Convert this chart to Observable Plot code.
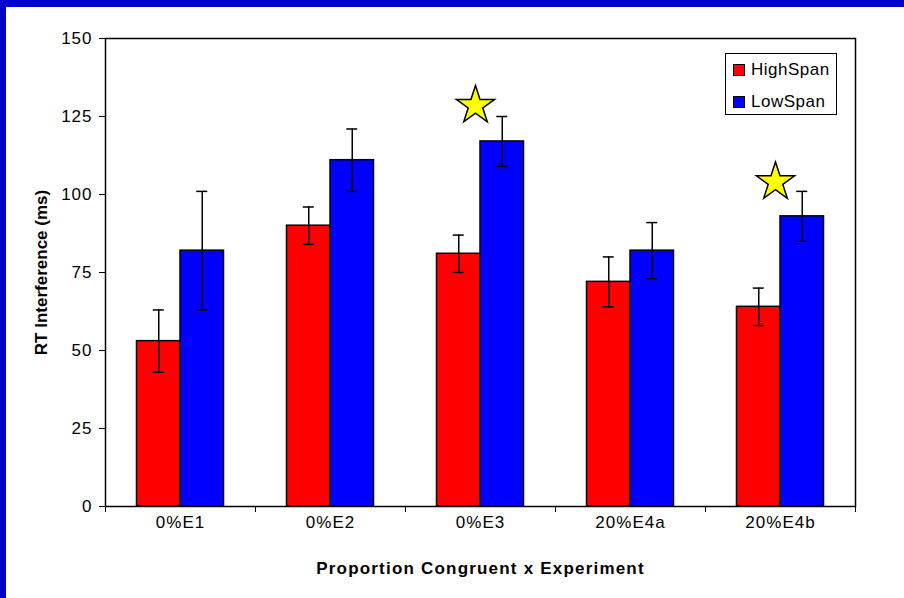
<!DOCTYPE html>
<html>
<head>
<meta charset="utf-8">
<script src="https://cdn.jsdelivr.net/npm/d3@7"></script>
<script src="https://cdn.jsdelivr.net/npm/@observablehq/plot@0.6"></script>
<style>
  html, body { margin: 0; padding: 0; }
  body { background: #0000CC; width: 904px; height: 598px; overflow: hidden; position: relative; }
  #panel { position: absolute; left: 6px; top: 7px; width: 898px; height: 591px; background: #fff; }
  #panel svg { font-family: "Liberation Sans", Arial, sans-serif; }
  g[aria-label="x-axis tick label"] text, g[aria-label="y-axis tick label"] text { font-size: 17px; letter-spacing: 1px; }
  g[aria-label="x-axis label"] text { font-weight: bold; font-size: 17px; letter-spacing: 1.2px; }
  g[aria-label="y-axis label"] text { font-weight: bold; font-size: 17px; }
  #legend { position: absolute; left: 719px; top: 46px; width: 110px; height: 60px; border: 1px solid #000; background: #fff;
    font-family: "Liberation Sans", Arial, sans-serif; font-size: 17px; letter-spacing: 0.5px; color: #000; }
  #legend .row { position: absolute; left: 7px; display: flex; align-items: center; line-height: 20px; }
  #legend .sw { width: 10px; height: 10px; border: 1px solid #000; margin-right: 6px; }
</style>
</head>
<body>
<div id="panel"></div>
<script>
const categories = ["0%E1", "0%E2", "0%E3", "20%E4a", "20%E4b"];
const seriesNames = ["HighSpan", "LowSpan"];
const highSpan = [53, 90, 81, 72, 64];
const highErr = [10, 6, 6, 8, 6];
const lowSpan = [82, 111, 117, 82, 93];
const lowErr = [19, 10, 8, 9, 8];
const yTicks = [0, 25, 50, 75, 100, 125, 150];
const starCats = ["0%E3", "20%E4b"];
const starValues = [128.5, 104];
const colors = ["#FF0000", "#0000FF"];

const W = 898, H = 591;
const mL = 99, mR = 49, mT = 31, mB = 92;
const step = (W - mL - mR) / categories.length;
const barW = 43.5;
const gap = (step - 2 * barW) / 2;

const rows = [];
categories.forEach((c, i) => {
  rows.push({cat: c, series: seriesNames[0], v: highSpan[i], e: highErr[i], k: 0});
  rows.push({cat: c, series: seriesNames[1], v: lowSpan[i], e: lowErr[i], k: 1});
});
const stars = starCats.map((c, i) => ({cat: c, v: starValues[i]}));

const unitsPerPx = 150 / (H - mT - mB);
const tickLen = 6;

function barMark(k) {
  const d = rows.filter(r => r.k === k);
  return Plot.barY(d, {
    x: "cat", y: "v", fill: colors[k], stroke: "#000", strokeWidth: 1.5,
    insetLeft: k === 0 ? gap : gap + barW,
    insetRight: k === 0 ? gap + barW : gap
  });
}
function errMarks(k) {
  const d = rows.filter(r => r.k === k);
  const dx = (k === 0 ? -1 : 1) * barW / 2;
  const capHalf = 5.5;
  return [
    Plot.ruleX(d, {x: "cat", y1: r => r.v - r.e, y2: r => r.v + r.e, dx, stroke: "#000", strokeWidth: 1.5}),
    Plot.tickY(d, {x: "cat", y: r => r.v + r.e, stroke: "#000", strokeWidth: 1.5,
      insetLeft: step / 2 + dx - capHalf, insetRight: step / 2 - dx - capHalf}),
    Plot.tickY(d, {x: "cat", y: r => r.v - r.e, stroke: "#000", strokeWidth: 1.5,
      insetLeft: step / 2 + dx - capHalf, insetRight: step / 2 - dx - capHalf})
  ];
}

const chart = Plot.plot({
  width: W, height: H,
  marginLeft: mL, marginRight: mR, marginTop: mT, marginBottom: mB,
  style: {fontFamily: '"Liberation Sans", Arial, sans-serif', fontSize: "17px", color: "#000", background: "transparent"},
  x: {type: "band", domain: categories, padding: 0, axis: null},
  y: {domain: [0, 150], axis: null},
  marks: [
    barMark(0), barMark(1),
    ...errMarks(0), ...errMarks(1),
    Plot.frame({stroke: "#000", strokeWidth: 1.5}),
    Plot.ruleX(categories, {x: d => d, dx: -step / 2, y1: 0, y2: -tickLen * unitsPerPx, stroke: "#000", strokeWidth: 1}),
    Plot.ruleX(categories.slice(-1), {x: d => d, dx: step / 2, y1: 0, y2: -tickLen * unitsPerPx, stroke: "#000", strokeWidth: 1}),
    Plot.axisX({tickSize: 0, tickPadding: 9, fontSize: 17, label: "Proportion Congruent x Experiment", labelAnchor: "center", labelArrow: "none", labelOffset: 67}),
    Plot.axisY({ticks: yTicks, tickSize: 6, tickPadding: 7, fontSize: 17, strokeWidth: 1, label: "RT Interference (ms)", labelAnchor: "center", labelArrow: "none", labelOffset: 71}),
    Plot.dot(stars, {x: "cat", y: "v", dx: -5, symbol: "star", r: 12, fill: "#FFFF00", stroke: "#000", strokeWidth: 1.5})
  ]
});

const panel = document.getElementById("panel");
panel.appendChild(chart);

const legend = document.createElement("div");
legend.id = "legend";
seriesNames.forEach((name, i) => {
  const row = document.createElement("div");
  row.className = "row";
  row.style.top = (i === 0 ? 6 : 38) + "px";
  const sw = document.createElement("div");
  sw.className = "sw";
  sw.style.background = colors[i];
  const t = document.createElement("span");
  t.textContent = name;
  row.appendChild(sw); row.appendChild(t);
  legend.appendChild(row);
});
panel.appendChild(legend);
</script>
</body>
</html>
